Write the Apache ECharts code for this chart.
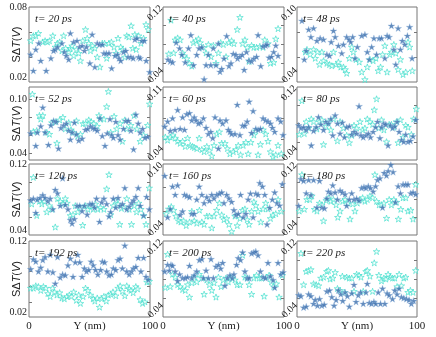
<!DOCTYPE html>
<html lang="en">
<head>
  <meta charset="UTF-8">
  <title>SdT line scans</title>
  <script src="https://cdn.jsdelivr.net/npm/echarts@6/dist/echarts.min.js"></script>
</head>
<body style="margin:0">
<div id="chart" style="width:436px;height:337px;"></div>
<script>
  // delay time of each panel (ps)
  const times = [20, 40, 48, 52, 60, 80, 120, 160, 180, 192, 200, 220];
  // y range of each panel and the two values written on its axis
  const yMin = [0.02, 0.04, 0.04, 0.032, 0.04, 0.04, 0.04, 0.04, 0.04, 0.02, 0.04, 0.04];
  const yMax = [0.08, 0.12, 0.10, 0.114, 0.11, 0.12, 0.12, 0.10, 0.12, 0.12, 0.12, 0.12];
  const yTickLabels = [[0.02, 0.08], [0.04, 0.12], [0.04, 0.10], [0.04, 0.10], [0.04, 0.11], [0.04, 0.12],
                       [0.04, 0.12], [0.04, 0.10], [0.04, 0.12], [0.02, 0.12], [0.04, 0.12], [0.04, 0.12]];
  const xTickLabels = [0, 100];

  // points are [Y (nm), SdT (V)]
  const dark20 = [[1.4,0.042],[3.6,0.029],[5.6,0.046],[8.1,0.051],[9.7,0.037],[14.2,0.029],[18.1,0.039],[20.3,0.045],[21.7,0.046],[23.6,0.048],[27.2,0.051],[29.2,0.044],[30.8,0.041],[32.8,0.038],[34.2,0.059],[36.9,0.052],[39.7,0.053],[41.7,0.048],[43.9,0.049],[45.8,0.045],[47.5,0.048],[50.3,0.035],[52.2,0.058],[54.4,0.032],[56.4,0.051],[58.3,0.050],[60.6,0.050],[61.9,0.043],[63.9,0.043],[66.1,0.043],[68.3,0.031],[71.1,0.041],[73.1,0.042],[74.4,0.039],[75.8,0.037],[78.1,0.044],[80.0,0.045],[81.9,0.040],[84.2,0.040],[86.1,0.039],[87.5,0.054],[89.2,0.055],[90.6,0.040],[91.9,0.039],[93.3,0.053],[95.3,0.053],[96.9,0.037],[99.7,0.028]];
  const cyan20 = [[1.4,0.053],[3.6,0.057],[5.6,0.057],[7.8,0.059],[11.4,0.052],[13.3,0.053],[15.3,0.052],[16.9,0.053],[19.7,0.057],[21.7,0.048],[23.6,0.051],[25.3,0.052],[27.2,0.045],[28.6,0.057],[30.3,0.047],[32.8,0.044],[34.2,0.047],[35.6,0.049],[36.9,0.041],[39.2,0.046],[41.1,0.043],[42.5,0.037],[44.4,0.053],[46.7,0.062],[48.1,0.055],[49.4,0.051],[50.8,0.045],[52.5,0.049],[54.4,0.047],[56.4,0.040],[58.6,0.032],[60.6,0.051],[62.5,0.051],[64.2,0.039],[66.1,0.051],[68.1,0.052],[70.3,0.048],[71.9,0.043],[73.6,0.055],[75.8,0.048],[77.5,0.046],[79.2,0.040],[80.8,0.057],[82.5,0.056],[84.4,0.065],[85.8,0.047],[87.5,0.058],[88.6,0.046],[90.6,0.057],[92.5,0.051],[94.7,0.055],[96.7,0.066],[98.6,0.062]];

  const dark40 = [[4.1,0.064],[6.0,0.062],[7.9,0.061],[10.9,0.082],[13.7,0.076],[15.6,0.069],[18.4,0.061],[21.1,0.076],[23.0,0.090],[25.2,0.058],[27.9,0.069],[29.9,0.076],[32.1,0.077],[34.0,0.043],[35.6,0.058],[37.5,0.069],[39.5,0.058],[41.6,0.076],[43.8,0.058],[45.8,0.081],[47.1,0.051],[48.5,0.054],[50.4,0.065],[52.6,0.089],[54.5,0.057],[56.2,0.060],[58.1,0.070],[60.3,0.069],[61.6,0.065],[63.6,0.067],[65.5,0.069],[67.1,0.053],[69.0,0.072],[71.0,0.063],[73.2,0.062],[75.1,0.065],[77.3,0.067],[78.6,0.090],[80.8,0.057],[82.7,0.078],[84.7,0.079],[86.0,0.080],[87.7,0.066],[89.6,0.067],[91.5,0.072],[93.2,0.079],[95.1,0.068]];
  const cyan40 = [[4.7,0.070],[6.6,0.106],[8.8,0.071],[10.1,0.085],[12.1,0.087],[14.2,0.085],[16.2,0.071],[17.5,0.068],[19.7,0.065],[21.9,0.060],[23.8,0.057],[25.2,0.082],[27.1,0.084],[29.3,0.086],[30.7,0.082],[33.4,0.077],[35.6,0.071],[37.5,0.080],[39.7,0.067],[41.6,0.079],[43.8,0.060],[45.8,0.071],[47.7,0.082],[49.9,0.080],[52.1,0.067],[54.5,0.082],[56.7,0.084],[58.6,0.081],[61.4,0.096],[63.6,0.109],[65.8,0.081],[67.7,0.085],[69.6,0.077],[71.2,0.062],[73.2,0.079],[75.1,0.077],[77.3,0.077],[80.0,0.078],[82.7,0.077],[84.1,0.085],[86.8,0.081],[88.8,0.060],[91.5,0.061],[93.2,0.086],[95.1,0.097]];

  const dark48 = [[4.1,0.089],[6.1,0.058],[7.7,0.065],[9.7,0.082],[11.6,0.076],[13.8,0.083],[16.6,0.073],[19.3,0.075],[22.1,0.074],[24.9,0.062],[27.1,0.061],[28.5,0.072],[30.4,0.081],[31.8,0.076],[34.5,0.069],[37.3,0.063],[38.7,0.070],[41.4,0.076],[43.4,0.074],[44.8,0.072],[46.4,0.076],[48.3,0.059],[50.3,0.068],[53.9,0.077],[56.6,0.078],[58.6,0.064],[60.2,0.058],[62.2,0.068],[64.1,0.075],[66.3,0.062],[68.5,0.075],[70.4,0.075],[73.2,0.059],[75.1,0.077],[76.8,0.076],[78.7,0.085],[80.7,0.066],[82.3,0.054],[84.3,0.083],[86.2,0.066],[87.8,0.073],[89.8,0.070],[92.0,0.077],[93.9,0.084],[95.9,0.059]];
  const cyan48 = [[6.9,0.064],[8.3,0.066],[11.0,0.062],[13.8,0.066],[15.2,0.059],[17.1,0.064],[18.8,0.054],[20.7,0.064],[22.1,0.057],[24.9,0.055],[27.1,0.054],[29.0,0.053],[30.4,0.064],[32.6,0.054],[34.5,0.056],[36.5,0.052],[38.7,0.052],[40.1,0.050],[41.4,0.047],[43.6,0.059],[45.6,0.068],[47.0,0.064],[49.2,0.058],[51.9,0.056],[53.9,0.048],[56.6,0.042],[58.6,0.052],[60.8,0.058],[63.5,0.057],[65.7,0.059],[67.7,0.049],[69.6,0.052],[71.3,0.062],[73.2,0.069],[75.1,0.048],[77.3,0.062],[78.7,0.064],[80.7,0.070],[82.3,0.063],[84.3,0.050],[86.2,0.058],[88.4,0.046],[90.6,0.048],[92.5,0.072],[93.9,0.068],[96.1,0.049]];

  const dark52 = [[1.4,0.062],[5.6,0.048],[6.9,0.063],[9.7,0.070],[11.4,0.091],[13.3,0.063],[16.1,0.049],[18.1,0.071],[20.3,0.076],[22.5,0.075],[24.4,0.045],[26.4,0.068],[28.6,0.071],[30.8,0.073],[32.8,0.065],[34.2,0.055],[35.6,0.063],[37.5,0.074],[39.2,0.061],[41.1,0.054],[43.9,0.056],[46.7,0.066],[48.6,0.067],[50.8,0.070],[52.8,0.068],[54.4,0.067],[56.4,0.065],[58.6,0.079],[60.6,0.059],[62.8,0.048],[64.7,0.062],[66.9,0.078],[68.3,0.060],[69.7,0.057],[71.7,0.075],[73.6,0.060],[75.3,0.055],[78.1,0.067],[80.0,0.076],[82.2,0.076],[84.2,0.065],[86.4,0.044],[88.3,0.083],[90.3,0.073],[91.9,0.063],[93.9,0.067],[95.8,0.057],[98.1,0.058]];
  const cyan52 = [[2.8,0.106],[3.6,0.064],[6.4,0.065],[8.6,0.082],[9.7,0.078],[11.4,0.082],[14.7,0.063],[16.9,0.061],[18.9,0.074],[21.7,0.075],[23.1,0.051],[25.3,0.077],[28.0,0.080],[30.0,0.067],[32.8,0.074],[34.7,0.066],[36.9,0.063],[39.2,0.076],[40.3,0.059],[42.5,0.061],[44.7,0.073],[46.7,0.073],[49.4,0.077],[51.4,0.075],[53.6,0.073],[56.4,0.070],[57.8,0.082],[59.2,0.078],[61.9,0.078],[64.2,0.092],[65.6,0.109],[67.5,0.063],[70.3,0.081],[72.5,0.067],[75.3,0.073],[77.2,0.053],[79.2,0.077],[80.8,0.067],[84.2,0.071],[86.9,0.082],[89.2,0.067],[91.9,0.053],[94.7,0.060],[98.1,0.071],[99.7,0.095]];

  const dark60 = [[1.4,0.072],[3.8,0.077],[6.0,0.068],[7.9,0.080],[9.9,0.069],[12.1,0.088],[14.2,0.070],[16.2,0.081],[17.8,0.069],[19.7,0.084],[21.9,0.085],[23.8,0.078],[25.8,0.081],[27.4,0.078],[29.3,0.075],[31.2,0.076],[33.4,0.080],[35.6,0.071],[37.5,0.065],[39.5,0.067],[41.1,0.061],[43.0,0.081],[45.8,0.051],[47.1,0.078],[49.3,0.075],[52.1,0.078],[54.0,0.069],[55.3,0.067],[56.7,0.065],[59.5,0.065],[61.4,0.093],[63.6,0.064],[65.8,0.073],[67.7,0.073],[69.6,0.077],[71.2,0.096],[73.2,0.066],[74.5,0.087],[76.7,0.070],[78.6,0.069],[80.5,0.070],[82.7,0.080],[84.7,0.078],[86.8,0.077],[88.8,0.075],[90.4,0.071],[92.3,0.067],[95.1,0.080],[97.3,0.077],[99.2,0.064]];
  const cyan60 = [[1.9,0.062],[3.8,0.059],[6.0,0.062],[8.2,0.064],[10.1,0.061],[12.1,0.058],[14.2,0.056],[16.2,0.058],[18.4,0.053],[20.3,0.061],[22.5,0.054],[24.4,0.053],[26.0,0.052],[27.9,0.051],[29.9,0.061],[32.1,0.050],[34.0,0.048],[36.2,0.053],[38.4,0.049],[40.3,0.044],[42.2,0.054],[44.4,0.065],[46.6,0.067],[48.5,0.056],[51.2,0.056],[53.2,0.051],[55.3,0.046],[58.1,0.048],[60.3,0.050],[62.2,0.054],[64.1,0.045],[66.3,0.054],[68.5,0.057],[70.4,0.046],[72.6,0.057],[75.1,0.064],[76.7,0.068],[78.6,0.045],[80.5,0.055],[82.7,0.069],[84.9,0.065],[86.8,0.058],[88.8,0.048],[91.0,0.043],[93.2,0.045],[95.1,0.054],[97.8,0.046]];

  const dark80 = [[1.4,0.078],[3.3,0.075],[5.5,0.076],[7.7,0.073],[9.7,0.076],[11.9,0.056],[13.8,0.072],[16.0,0.076],[17.9,0.087],[19.9,0.079],[22.1,0.073],[24.0,0.082],[26.2,0.080],[28.2,0.085],[29.8,0.067],[31.8,0.089],[33.7,0.080],[35.9,0.069],[37.8,0.081],[39.5,0.065],[41.4,0.076],[43.6,0.077],[45.6,0.068],[47.5,0.071],[49.7,0.069],[51.7,0.099],[53.3,0.067],[55.2,0.065],[57.5,0.067],[59.4,0.069],[61.3,0.065],[63.5,0.071],[65.5,0.076],[67.1,0.082],[69.1,0.064],[70.4,0.076],[72.4,0.080],[74.0,0.079],[75.9,0.056],[77.9,0.078],[79.6,0.075],[81.5,0.077],[83.4,0.082],[85.1,0.071],[87.0,0.062],[89.0,0.060],[90.6,0.068],[92.5,0.060],[94.5,0.061],[96.7,0.066],[98.9,0.084]];
  const cyan80 = [[1.9,0.068],[4.1,0.105],[6.1,0.069],[7.7,0.082],[9.7,0.075],[11.9,0.085],[13.8,0.082],[16.6,0.074],[18.8,0.082],[20.7,0.084],[22.1,0.057],[24.3,0.077],[26.2,0.082],[28.2,0.073],[30.4,0.085],[33.7,0.061],[35.9,0.082],[38.7,0.075],[41.4,0.067],[43.6,0.059],[45.6,0.067],[47.5,0.078],[49.7,0.075],[52.5,0.082],[54.7,0.073],[56.6,0.075],[58.6,0.085],[60.8,0.082],[63.0,0.079],[64.4,0.095],[66.3,0.107],[68.2,0.075],[70.4,0.084],[72.4,0.073],[74.6,0.060],[76.8,0.079],[78.7,0.079],[80.7,0.076],[82.9,0.082],[84.3,0.059],[86.2,0.084],[88.4,0.065],[90.6,0.078],[92.5,0.076],[95.3,0.068],[97.2,0.085],[99.4,0.096]];

  const dark120 = [[1.4,0.079],[3.6,0.081],[5.6,0.065],[6.9,0.080],[9.2,0.082],[11.4,0.085],[13.3,0.082],[15.6,0.078],[17.5,0.081],[19.7,0.069],[21.7,0.091],[23.6,0.087],[25.8,0.073],[27.8,0.104],[30.0,0.074],[32.2,0.069],[34.2,0.057],[35.6,0.053],[37.5,0.058],[39.7,0.073],[41.9,0.073],[43.9,0.067],[45.8,0.073],[48.1,0.063],[50.3,0.075],[52.2,0.075],[54.2,0.071],[55.8,0.081],[58.3,0.055],[60.0,0.077],[61.9,0.081],[64.2,0.075],[66.1,0.061],[67.5,0.066],[69.7,0.081],[71.7,0.071],[73.6,0.082],[75.3,0.073],[77.2,0.075],[79.2,0.093],[80.8,0.069],[82.8,0.072],[84.7,0.076],[86.4,0.079],[88.3,0.083],[90.3,0.093],[91.9,0.073],[94.7,0.062],[97.2,0.083],[99.4,0.069]];
  const cyan120 = [[2.2,0.075],[3.6,0.105],[6.4,0.062],[8.6,0.078],[10.6,0.075],[12.8,0.078],[14.7,0.066],[16.9,0.073],[18.9,0.069],[21.7,0.049],[23.6,0.081],[25.8,0.078],[28.1,0.075],[30.0,0.081],[31.4,0.076],[34.2,0.062],[36.4,0.063],[38.3,0.073],[40.3,0.066],[42.5,0.071],[44.4,0.051],[46.7,0.073],[48.6,0.069],[50.8,0.073],[53.1,0.069],[55.0,0.075],[56.9,0.069],[59.2,0.071],[61.9,0.069],[64.2,0.092],[66.1,0.108],[67.5,0.063],[69.7,0.073],[71.7,0.079],[73.6,0.075],[75.0,0.052],[76.4,0.070],[78.6,0.072],[80.8,0.081],[82.8,0.069],[84.7,0.052],[86.9,0.073],[88.9,0.066],[90.6,0.076],[92.5,0.069],[94.7,0.062],[96.7,0.052],[99.4,0.093]];

  const dark160 = [[1.4,0.090],[3.8,0.055],[6.0,0.062],[7.9,0.081],[10.1,0.074],[12.1,0.082],[14.2,0.057],[16.2,0.060],[17.8,0.074],[19.7,0.073],[21.9,0.072],[23.8,0.058],[25.8,0.058],[27.9,0.070],[29.9,0.081],[32.1,0.074],[34.0,0.067],[36.2,0.072],[38.4,0.069],[40.3,0.074],[42.2,0.071],[44.4,0.074],[46.6,0.075],[48.5,0.076],[50.4,0.067],[52.6,0.074],[54.5,0.071],[56.7,0.068],[58.6,0.061],[60.3,0.057],[62.2,0.058],[64.1,0.074],[66.3,0.055],[68.5,0.058],[70.4,0.070],[72.3,0.075],[74.5,0.055],[76.7,0.075],[78.6,0.074],[80.0,0.084],[82.2,0.081],[84.1,0.074],[86.0,0.049],[88.2,0.063],[90.4,0.070],[92.3,0.076],[94.2,0.067],[96.4,0.065],[98.6,0.083]];
  const cyan160 = [[2.7,0.058],[4.7,0.062],[6.8,0.064],[8.8,0.061],[10.7,0.056],[12.9,0.052],[14.8,0.051],[17.0,0.052],[19.2,0.048],[21.9,0.051],[23.8,0.060],[25.8,0.052],[27.9,0.050],[30.1,0.061],[32.1,0.051],[34.0,0.049],[36.2,0.056],[38.4,0.056],[40.3,0.046],[42.2,0.056],[44.4,0.061],[46.6,0.067],[48.5,0.057],[50.4,0.053],[52.6,0.054],[54.5,0.049],[56.7,0.043],[59.5,0.056],[61.4,0.048],[63.6,0.054],[65.8,0.061],[67.7,0.062],[69.6,0.053],[71.2,0.049],[73.2,0.060],[75.1,0.068],[76.7,0.065],[78.6,0.060],[80.8,0.051],[82.7,0.062],[84.9,0.067],[86.8,0.062],[88.8,0.054],[91.0,0.057],[93.2,0.058],[95.1,0.070],[97.8,0.060]];

  const dark180 = [[1.4,0.073],[3.3,0.103],[5.5,0.101],[7.7,0.087],[9.7,0.102],[11.6,0.085],[13.8,0.102],[16.6,0.071],[18.8,0.101],[20.7,0.071],[22.9,0.070],[24.9,0.081],[26.2,0.089],[28.2,0.087],[29.8,0.096],[31.8,0.088],[33.7,0.080],[35.9,0.090],[37.8,0.088],[40.1,0.086],[41.4,0.073],[43.6,0.080],[45.6,0.087],[47.5,0.080],[49.7,0.081],[51.7,0.079],[53.9,0.093],[55.8,0.094],[57.5,0.093],[59.4,0.095],[61.3,0.093],[63.5,0.089],[65.5,0.095],[67.1,0.102],[69.1,0.104],[71.3,0.071],[72.7,0.110],[74.6,0.107],[76.0,0.112],[78.2,0.119],[80.1,0.111],[82.0,0.077],[84.3,0.095],[86.2,0.087],[88.4,0.097],[90.6,0.097],[92.5,0.097],[94.8,0.087],[96.7,0.088],[98.9,0.086]];
  const cyan180 = [[1.9,0.067],[4.1,0.108],[6.1,0.069],[8.3,0.080],[10.5,0.080],[12.4,0.084],[14.6,0.069],[16.6,0.067],[18.8,0.076],[20.7,0.074],[22.1,0.056],[24.3,0.079],[26.2,0.082],[28.2,0.078],[30.4,0.080],[32.6,0.074],[34.0,0.060],[35.9,0.067],[38.1,0.078],[40.1,0.080],[42.3,0.076],[44.2,0.058],[46.4,0.075],[48.3,0.067],[50.3,0.076],[52.5,0.080],[54.7,0.082],[56.6,0.078],[58.6,0.080],[60.8,0.084],[63.0,0.082],[64.9,0.108],[66.3,0.078],[68.5,0.074],[70.4,0.074],[72.4,0.076],[74.6,0.059],[76.8,0.080],[78.7,0.074],[80.7,0.080],[82.9,0.077],[84.5,0.058],[86.5,0.069],[88.4,0.082],[90.6,0.082],[92.5,0.067],[94.8,0.068],[96.7,0.058],[98.9,0.097]];

  const dark192 = [[1.4,0.083],[3.6,0.096],[5.6,0.093],[7.8,0.080],[9.7,0.085],[11.4,0.095],[13.3,0.099],[15.6,0.080],[17.5,0.102],[19.7,0.079],[21.7,0.064],[23.6,0.099],[25.8,0.072],[27.8,0.076],[30.0,0.075],[32.2,0.088],[34.2,0.097],[36.4,0.073],[38.3,0.092],[40.3,0.102],[41.9,0.092],[43.9,0.073],[45.8,0.084],[47.5,0.080],[49.4,0.082],[51.4,0.093],[53.1,0.088],[55.0,0.082],[56.9,0.076],[59.2,0.082],[60.6,0.093],[62.5,0.092],[64.2,0.080],[66.1,0.075],[68.1,0.076],[69.7,0.084],[71.7,0.082],[73.6,0.095],[75.3,0.097],[77.2,0.084],[79.2,0.114],[80.8,0.080],[82.8,0.076],[84.7,0.080],[86.4,0.084],[88.3,0.086],[90.3,0.098],[92.5,0.080],[94.7,0.098],[96.7,0.073],[98.6,0.069]];
  const cyan192 = [[1.4,0.058],[3.6,0.058],[5.6,0.061],[7.8,0.060],[9.7,0.055],[11.9,0.060],[13.9,0.058],[15.6,0.051],[17.5,0.047],[19.4,0.058],[21.1,0.053],[23.1,0.049],[25.3,0.052],[27.2,0.045],[29.2,0.044],[31.4,0.047],[33.3,0.049],[35.0,0.047],[36.9,0.053],[39.2,0.042],[41.1,0.049],[42.5,0.038],[44.7,0.047],[46.7,0.058],[48.6,0.055],[50.8,0.049],[53.1,0.044],[54.4,0.041],[56.4,0.045],[58.3,0.033],[60.0,0.044],[61.9,0.047],[63.9,0.041],[65.6,0.049],[67.5,0.050],[69.4,0.053],[71.7,0.048],[73.6,0.058],[75.3,0.061],[77.2,0.054],[79.2,0.048],[80.8,0.061],[82.8,0.057],[84.2,0.055],[86.1,0.052],[88.3,0.060],[89.7,0.057],[91.9,0.043],[93.9,0.038],[95.8,0.040],[97.5,0.066],[99.4,0.067]];

  const dark200 = [[1.4,0.088],[3.8,0.095],[5.2,0.089],[6.6,0.095],[7.9,0.094],[10.1,0.088],[12.1,0.078],[13.7,0.085],[16.2,0.081],[18.4,0.081],[20.3,0.082],[21.9,0.094],[23.8,0.081],[25.8,0.084],[27.9,0.088],[30.1,0.100],[32.1,0.101],[33.4,0.081],[35.6,0.089],[37.5,0.081],[39.7,0.101],[41.6,0.081],[43.8,0.093],[45.8,0.095],[47.7,0.091],[49.3,0.097],[51.2,0.073],[53.2,0.081],[55.3,0.084],[57.3,0.081],[58.6,0.085],[60.8,0.095],[62.2,0.102],[64.1,0.100],[65.8,0.108],[67.7,0.088],[69.6,0.081],[71.2,0.081],[73.2,0.107],[75.1,0.108],[76.7,0.109],[78.6,0.105],[80.5,0.088],[82.7,0.082],[84.7,0.081],[86.8,0.097],[88.8,0.083],[91.0,0.079],[92.3,0.071],[95.1,0.097],[97.3,0.085],[99.2,0.087]];
  const cyan200 = [[1.9,0.071],[3.8,0.106],[6.0,0.072],[7.9,0.085],[10.1,0.082],[12.1,0.074],[14.2,0.072],[16.2,0.069],[18.4,0.068],[20.3,0.074],[21.9,0.061],[23.8,0.076],[25.8,0.082],[27.9,0.077],[29.9,0.085],[32.1,0.081],[34.0,0.064],[36.2,0.079],[38.4,0.074],[40.3,0.068],[42.2,0.076],[43.8,0.061],[45.8,0.082],[48.0,0.072],[49.9,0.079],[52.1,0.081],[54.0,0.077],[55.9,0.082],[57.5,0.081],[59.5,0.079],[61.4,0.074],[63.6,0.074],[65.8,0.105],[67.7,0.082],[69.6,0.081],[71.2,0.074],[73.2,0.064],[75.1,0.081],[77.3,0.084],[79.5,0.081],[81.4,0.081],[83.6,0.062],[85.5,0.082],[87.7,0.084],[89.6,0.077],[91.5,0.072],[93.7,0.075],[95.9,0.061],[98.6,0.084]];

  const dark220 = [[1.4,0.063],[3.3,0.062],[5.5,0.050],[7.7,0.051],[9.7,0.064],[11.6,0.062],[13.8,0.054],[15.2,0.058],[17.1,0.052],[18.8,0.059],[20.7,0.052],[22.7,0.053],[24.9,0.067],[27.1,0.068],[29.0,0.061],[30.9,0.052],[32.6,0.058],[34.5,0.068],[36.5,0.064],[38.1,0.057],[40.1,0.066],[42.0,0.062],[43.6,0.051],[45.6,0.065],[47.5,0.074],[49.2,0.056],[51.1,0.063],[53.0,0.066],[55.2,0.054],[57.5,0.066],[58.6,0.075],[60.2,0.055],[62.2,0.054],[64.1,0.056],[65.7,0.054],[67.7,0.066],[69.6,0.054],[71.3,0.070],[73.2,0.054],[75.1,0.065],[76.8,0.063],[79.6,0.059],[81.5,0.068],[83.4,0.064],[85.1,0.070],[87.0,0.061],[89.0,0.060],[91.2,0.059],[93.4,0.058],[95.3,0.054],[97.2,0.057]];
  const cyan220 = [[3.3,0.107],[5.5,0.074],[7.7,0.088],[9.7,0.089],[11.6,0.090],[13.8,0.075],[16.0,0.074],[18.0,0.073],[19.9,0.081],[22.1,0.082],[24.9,0.088],[26.2,0.089],[27.6,0.080],[29.8,0.081],[31.8,0.087],[33.7,0.070],[35.9,0.068],[37.8,0.083],[39.5,0.066],[41.4,0.082],[43.6,0.081],[45.6,0.081],[47.5,0.067],[49.7,0.085],[51.7,0.084],[53.3,0.082],[55.2,0.067],[57.5,0.088],[58.6,0.089],[60.8,0.083],[63.0,0.067],[64.4,0.097],[66.3,0.109],[68.2,0.084],[70.4,0.078],[72.4,0.081],[74.0,0.080],[75.9,0.085],[77.9,0.082],[79.6,0.081],[81.5,0.081],[83.4,0.072],[85.1,0.085],[87.0,0.073],[89.0,0.081],[90.6,0.082],[92.5,0.066],[94.5,0.068],[96.7,0.066],[98.9,0.089]];

  const darkData = [dark20, dark40, dark48, dark52, dark60, dark80, dark120, dark160, dark180, dark192, dark200, dark220];
  const cyanData = [cyan20, cyan40, cyan48, cyan52, cyan60, cyan80, cyan120, cyan160, cyan180, cyan192, cyan200, cyan220];

  // panel layout (px)
  const colLeft = [29, 163, 297];
  const colWidth = [121, 121, 120];
  const rowTop = [7, 87, 164, 241];
  const rowHeight = [75, 73, 71, 76];

  const star = 'path://M50,0L61.2,34.6L97.6,34.5L68,55.8L79.4,90.5L50,69L20.6,90.5L32,55.8L2.4,34.5L38.8,34.6Z';
  const serif = 'Liberation Serif';
  const ink = '#222';
  const frame = '#777';

  let chart = echarts.init(document.getElementById('chart'), null, {renderer: 'canvas'});

  let grids = [], xAxes = [], yAxes = [], series = [], titles = [];

  for (let i = 0; i < 12; i++) {
    const r = Math.floor(i / 3), c = i % 3;
    const mid = (yMin[i] + yMax[i]) / 2;
    let ticks = [];
    for (let k = Math.ceil(yMin[i] / 0.02 - 1e-6); k * 0.02 < yMax[i] - 1e-6; k++) {
      if (k * 0.02 > yMin[i] + 1e-6) ticks.push(+(k * 0.02).toFixed(2));
    }

    grids.push({
      left: colLeft[c], top: rowTop[r], width: colWidth[c], height: rowHeight[r],
      show: true, borderColor: frame, borderWidth: 1, containLabel: false, outerBoundsMode: 'none'
    });

    titles.push({
      text: 't= ' + times[i] + ' ps',
      left: colLeft[c] + 6, top: rowTop[r] + 7, padding: 0,
      textStyle: {fontFamily: serif, fontStyle: 'italic', fontWeight: 'normal', fontSize: 11, color: ink}
    });

    xAxes.push({
      type: 'value', gridIndex: i, min: 0, max: 100,
      axisLine: {show: false}, splitLine: {show: false}, axisTick: {show: false},
      axisLabel: {
        show: r === 3, customValues: xTickLabels, margin: 4,
        fontFamily: serif, fontSize: 11, color: ink
      },
      name: r === 3 ? 'Y (nm)' : '', nameLocation: 'middle', nameGap: 4, nameMoveOverlap: false,
      nameTextStyle: {fontFamily: serif, fontSize: 11, color: ink, verticalAlign: 'top'}
    });

    // bottom labels sit a little above the frame corner in the reference
    const shiftLo = i !== 3;
    const base = {fontFamily: serif, fontSize: 10, color: ink};
    let label;
    if (c === 0) {
      label = {
        customValues: yTickLabels[i], margin: 2,
        formatter: v => (v < mid && shiftLo ? '{lo|' : '{hi|') + v.toFixed(2) + '}',
        rich: {hi: base, lo: Object.assign({padding: [0, 0, 10, 0]}, base)}
      };
    } else {
      label = {
        customValues: yTickLabels[i], margin: 2, rotate: 45, align: 'center',
        formatter: v => (v < mid ? '{lo|' : '{hi|') + v.toFixed(2) + '}',
        rich: {
          hi: Object.assign({padding: [0, 17, 0, 0]}, base),
          lo: Object.assign({padding: [0, 0, 17, 2]}, base)
        }
      };
    }

    yAxes.push({
      type: 'value', gridIndex: i, min: yMin[i], max: yMax[i],
      axisLine: {show: false}, splitLine: {show: false},
      axisTick: {show: true, inside: true, length: 3, customValues: ticks, lineStyle: {color: frame}},
      axisLabel: label,
      name: c === 0 ? '{n|SΔ}{t|T}{n|(}{t|V}{n|)}' : '',
      nameLocation: 'middle', nameRotate: 90, nameGap: 7, nameMoveOverlap: false,
      nameTextStyle: {
        rich: {
          n: {fontFamily: 'Liberation Sans', fontSize: 11, color: ink},
          t: {fontFamily: 'Liberation Sans', fontSize: 11, fontStyle: 'italic', color: ink}
        }
      }
    });
    yAxes.push({
      type: 'value', gridIndex: i, position: 'right', min: yMin[i], max: yMax[i],
      axisLine: {show: false}, splitLine: {show: false}, axisLabel: {show: false},
      axisTick: {show: true, inside: true, length: 3, customValues: ticks, lineStyle: {color: frame}}
    });

    series.push({
      type: 'scatter', xAxisIndex: i, yAxisIndex: 2 * i,
      symbol: star, symbolSize: 6.5, symbolKeepAspect: true,
      itemStyle: {color: '#f0fffd', borderColor: '#3bdcc9', borderWidth: 0.8},
      data: cyanData[i]
    });
    series.push({
      type: 'scatter', xAxisIndex: i, yAxisIndex: 2 * i,
      symbol: star, symbolSize: 7, symbolKeepAspect: true,
      itemStyle: {color: '#3a6dab', borderColor: '#9bbde4', borderWidth: 0.4},
      data: darkData[i]
    });
  }

  chart.setOption({
    animation: false,
    backgroundColor: '#fff',
    title: titles,
    grid: grids,
    xAxis: xAxes,
    yAxis: yAxes,
    series: series
  });
</script>
</body>
</html>
